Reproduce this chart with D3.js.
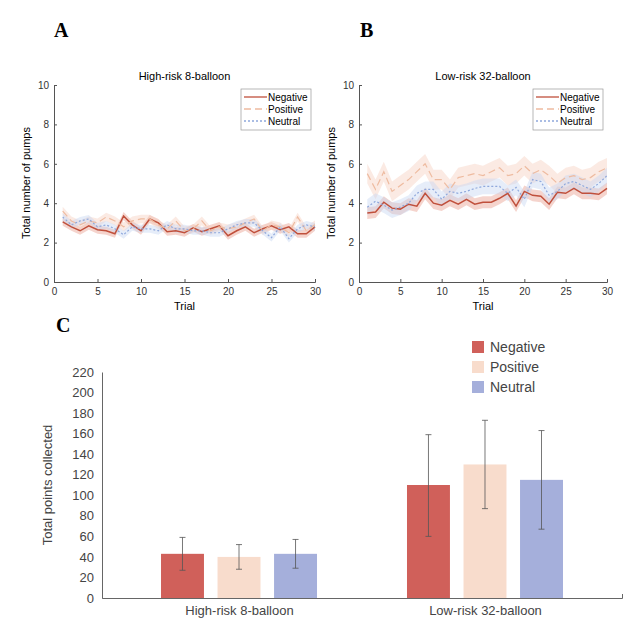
<!DOCTYPE html>
<html><head><meta charset="utf-8">
<script src="https://cdn.jsdelivr.net/npm/d3@7"></script>
<style>body{margin:0;background:#fff}svg{font-family:Arial,"Liberation Sans",sans-serif}</style>
</head><body>
<svg id="c" width="640" height="640"></svg>
<script>
var trials = d3.range(1, 31);
var conditions = ["Negative", "Positive", "Neutral"];
var highNeg = [3.05,2.8,2.6,2.85,2.65,2.6,2.45,3.35,2.9,2.6,3.2,3.0,2.55,2.6,2.5,2.75,2.55,2.7,2.85,2.35,2.6,2.8,2.5,2.7,2.85,2.65,2.8,2.45,2.45,2.8];
var highPos = [3.6,3.1,2.9,3.1,3.0,3.3,3.1,2.8,3.1,3.2,3.2,2.9,2.7,3.1,2.6,2.7,3.1,2.6,2.8,2.7,2.8,3.0,3.2,2.6,2.9,2.8,2.5,3.3,2.6,2.9];
var highNeu = [3.3,2.9,3.1,3.2,2.8,2.9,2.7,2.4,2.8,2.7,2.7,2.6,2.9,2.7,2.7,2.6,2.6,2.5,2.5,2.7,2.9,3.0,3.0,2.6,2.25,2.8,2.2,2.7,2.9,2.8];
var lowNeg = [3.5,3.55,4.05,3.75,3.7,3.95,3.85,4.5,4.0,3.9,4.15,3.95,4.2,3.95,4.05,4.05,4.25,4.5,3.85,4.6,4.4,4.35,3.95,4.55,4.5,4.75,4.5,4.5,4.45,4.75];
var lowPos = [5.5,4.7,5.6,4.6,4.9,5.2,5.6,6.0,5.2,5.2,4.7,5.3,5.4,5.5,5.4,5.6,5.8,5.4,5.5,5.9,5.5,5.7,5.4,5.0,5.3,5.4,5.2,5.3,5.6,5.8];
var lowNeu = [3.8,4.1,3.9,3.65,3.8,4.0,4.5,4.7,4.7,4.2,4.6,4.5,4.6,4.75,4.85,4.85,4.85,4.5,4.8,4.2,5.2,5.1,4.4,4.6,5.0,5.1,4.9,4.7,5.0,5.4];
var highSE = [0.2, 0.22, 0.2];
var lowSE = [0.3, 0.5, 0.4];
var groups = ["High-risk 8-balloon", "Low-risk 32-balloon"];
var pointsMean = [[43, 40, 43], [110, 130, 115]];
var pointsLo = [[27, 28, 29], [60, 87, 67]];
var pointsHi = [[59, 52, 57], [159, 173, 163]];

var lineCol = ["#c0503c", "#eebba0", "#8fa8dc"];
var bandCol = ["#e8a090", "#f6d0c0", "#c8d6f2"];
var dash = [null, "7,4", "2,2"];
var barCol = ["#d0605a", "#f8dccc", "#a5afdb"];

var svg = d3.select("#c");
function label(t, x, y) {
  svg.append("text").attr("x", x).attr("y", y).attr("font-family", "Liberation Serif,serif")
    .attr("font-weight", "bold").attr("font-size", 20).text(t);
}
label("A", 54, 37); label("B", 360, 37); label("C", 56, 332);

function panel(x0, x1, title, series, se) {
  var x = d3.scaleLinear().domain([0, 30]).range([x0, x1]);
  var y = d3.scaleLinear().domain([0, 10]).range([282, 85]);
  var g = svg.append("g");
  g.append("g").attr("transform", "translate(0,282)").call(d3.axisBottom(x).tickValues([0,5,10,15,20,25,30]).tickSize(-3).tickPadding(6));
  g.append("g").attr("transform", "translate(" + x0 + ",0)").call(d3.axisLeft(y).ticks(5).tickSize(-3).tickPadding(5));
  g.selectAll(".domain,.tick line").attr("stroke", "#555");
  g.selectAll(".tick text").attr("font-size", 10).attr("fill", "#333");
  g.append("text").attr("x", (x0 + x1) / 2).attr("y", 80).attr("text-anchor", "middle").attr("font-size", 11).text(title);
  g.append("text").attr("x", (x0 + x1) / 2).attr("y", 310).attr("text-anchor", "middle").attr("font-size", 11).text("Trial");
  g.append("text").attr("transform", "translate(" + (x0 - 24) + ",183) rotate(-90)").attr("text-anchor", "middle").attr("font-size", 11).text("Total number of pumps");
  series.forEach(function(s, i) {
    var area = d3.area().x(function(d, j) { return x(trials[j]); })
      .y0(function(d) { return y(d - se[i]); }).y1(function(d) { return y(d + se[i]); });
    g.append("path").datum(s).attr("d", area).attr("fill", bandCol[i]).attr("opacity", 0.45);
  });
  series.forEach(function(s, i) {
    var line = d3.line().x(function(d, j) { return x(trials[j]); }).y(function(d) { return y(d); });
    g.append("path").datum(s).attr("d", line).attr("fill", "none").attr("stroke", lineCol[i])
      .attr("stroke-width", i == 0 ? 1.5 : 1.2).attr("stroke-dasharray", dash[i]);
  });
  var lx = x1 - 74, ly = 89;
  g.append("rect").attr("x", lx).attr("y", ly).attr("width", 70).attr("height", 41).attr("fill", "#fff").attr("stroke", "#999").attr("stroke-width", 0.7);
  conditions.forEach(function(c, i) {
    var yy = ly + 8 + i * 12;
    g.append("line").attr("x1", lx + 3).attr("x2", lx + 26).attr("y1", yy).attr("y2", yy)
      .attr("stroke", lineCol[i]).attr("stroke-width", 1.3).attr("stroke-dasharray", dash[i]);
    g.append("text").attr("x", lx + 27).attr("y", yy + 4).attr("font-size", 10).text(c);
  });
}
panel(54, 315, groups[0], [highNeg, highPos, highNeu], highSE);
panel(359, 607, groups[1], [lowNeg, lowPos, lowNeu], lowSE);

// panel C
var xc = d3.scalePoint().domain(groups).range([102, 622]).padding(0.557);
var xs = d3.scaleBand().domain(conditions).range([-78, 78]).paddingInner(0.24);
var yc = d3.scaleLinear().domain([0, 220]).range([598, 372]);
var gc = svg.append("g");
gc.append("g").attr("transform", "translate(0,598)").call(d3.axisBottom(xc).tickSize(-4).tickPadding(8));
gc.append("g").attr("transform", "translate(102,0)").call(d3.axisLeft(yc).tickValues(d3.range(0, 221, 20)).tickSize(0).tickPadding(8));
gc.selectAll(".domain").attr("stroke", "#666");
gc.selectAll(".tick line").attr("stroke", "#666");
gc.selectAll(".tick text").attr("font-size", 13).attr("fill", "#444");
gc.append("text").attr("transform", "translate(52,485) rotate(-90)").attr("text-anchor", "middle").attr("font-size", 13).attr("fill", "#444").text("Total points collected");
groups.forEach(function(gname, gi) {
  conditions.forEach(function(c, i) {
    var bx = xc(gname) + xs(c);
    gc.append("rect").attr("x", bx).attr("y", yc(pointsMean[gi][i])).attr("width", xs.bandwidth())
      .attr("height", yc(0) - yc(pointsMean[gi][i])).attr("fill", barCol[i]);
    var cx = bx + xs.bandwidth() / 2;
    gc.append("line").attr("x1", cx).attr("x2", cx).attr("y1", yc(pointsLo[gi][i])).attr("y2", yc(pointsHi[gi][i])).attr("stroke", "#555").attr("stroke-width", 0.8);
    [pointsLo[gi][i], pointsHi[gi][i]].forEach(function(v) {
      gc.append("line").attr("x1", cx - 3).attr("x2", cx + 3).attr("y1", yc(v)).attr("y2", yc(v)).attr("stroke", "#555").attr("stroke-width", 0.8);
    });
  });
});
conditions.forEach(function(c, i) {
  var yy = 341 + i * 20;
  gc.append("rect").attr("x", 472).attr("y", yy).attr("width", 12).attr("height", 12).attr("fill", barCol[i]);
  gc.append("text").attr("x", 490).attr("y", yy + 11).attr("font-size", 14).attr("fill", "#444").text(c);
});
</script>
</body></html>
